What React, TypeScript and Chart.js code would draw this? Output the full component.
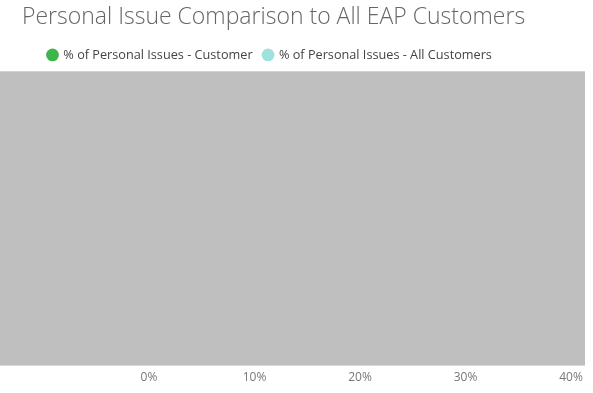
import React, { useEffect, useRef } from "react";
import { Chart, registerables } from "chart.js";

Chart.register(...registerables);

const TITLE = "Personal Issue Comparison to All EAP Customers";
const categories: string[] = [];
const customerValues: number[] = [];
const allCustomerValues: number[] = [];
const seriesNames = ["% of Personal Issues - Customer", "% of Personal Issues - All Customers"];
const seriesColors = ["#3DB54A", "#9FE1DD"];
const xMin = 0;
const xMax = 0.4;
const xStep = 0.1;

const overlayPlugin = {
  id: "grayOverlay",
  afterLayout(chart: any) {
    if (chart.legend) {
      chart.legend.left += 15;
      chart.legend.right += 15;
    }
  },
  afterDraw(chart: any) {
    const { ctx, chartArea, width } = chart;
    ctx.save();
    ctx.fillStyle = "#BFBFBF";
    ctx.fillRect(0, chartArea.top, width - 8, chartArea.bottom - chartArea.top);
    ctx.restore();
  },
};

export default function App() {
  const ref = useRef<HTMLCanvasElement>(null);
  useEffect(() => {
    document.body.style.margin = "0";
    const chart = new Chart(ref.current!, {
      type: "bar",
      data: {
        labels: categories,
        datasets: [
          { label: seriesNames[0], data: customerValues, backgroundColor: seriesColors[0], borderColor: seriesColors[0] },
          { label: seriesNames[1], data: allCustomerValues, backgroundColor: seriesColors[1], borderColor: seriesColors[1] },
        ],
      },
      options: {
        indexAxis: "y",
        animation: false,
        responsive: false,
        layout: { padding: { left: 22, right: 22, top: 0, bottom: 3 } },
        plugins: {
          title: {
            display: true,
            text: TITLE,
            align: "start",
            color: "#666666",
            font: { family: "'Segoe UI Light', 'Open Sans', sans-serif", size: 23, weight: "300" },
            padding: { top: 4, bottom: 6 },
          },
          legend: {
            display: true,
            align: "start",
            labels: {
              usePointStyle: true,
              pointStyle: "circle",
              boxWidth: 9,
              boxHeight: 9,
              padding: 11,
              color: "#444444",
              font: { family: "'Segoe UI', 'Open Sans', sans-serif", size: 12.7 },
            },
          },
          tooltip: { enabled: false },
        },
        scales: {
          x: {
            type: "linear",
            min: xMin,
            max: xMax,
            grid: { display: false, drawTicks: false },
            border: { display: false },
            ticks: {
              stepSize: xStep,
              padding: 5,
              color: "#777777",
              font: { family: "'Segoe UI', 'Open Sans', sans-serif", size: 12 },
              callback: (v: any) => Math.round(Number(v) * 100) + "%",
            },
          },
          y: {
            type: "category",
            grid: { display: false, drawTicks: false },
            border: { display: false },
            ticks: { display: false },
            afterFit: (scale: any) => {
              scale.width = 127;
            },
          },
        },
      },
      plugins: [overlayPlugin],
    });
    return () => chart.destroy();
  }, []);
  return (
    <div style={{ width: 593, height: 393 }}>
      <canvas ref={ref} width={593} height={393} />
    </div>
  );
}
